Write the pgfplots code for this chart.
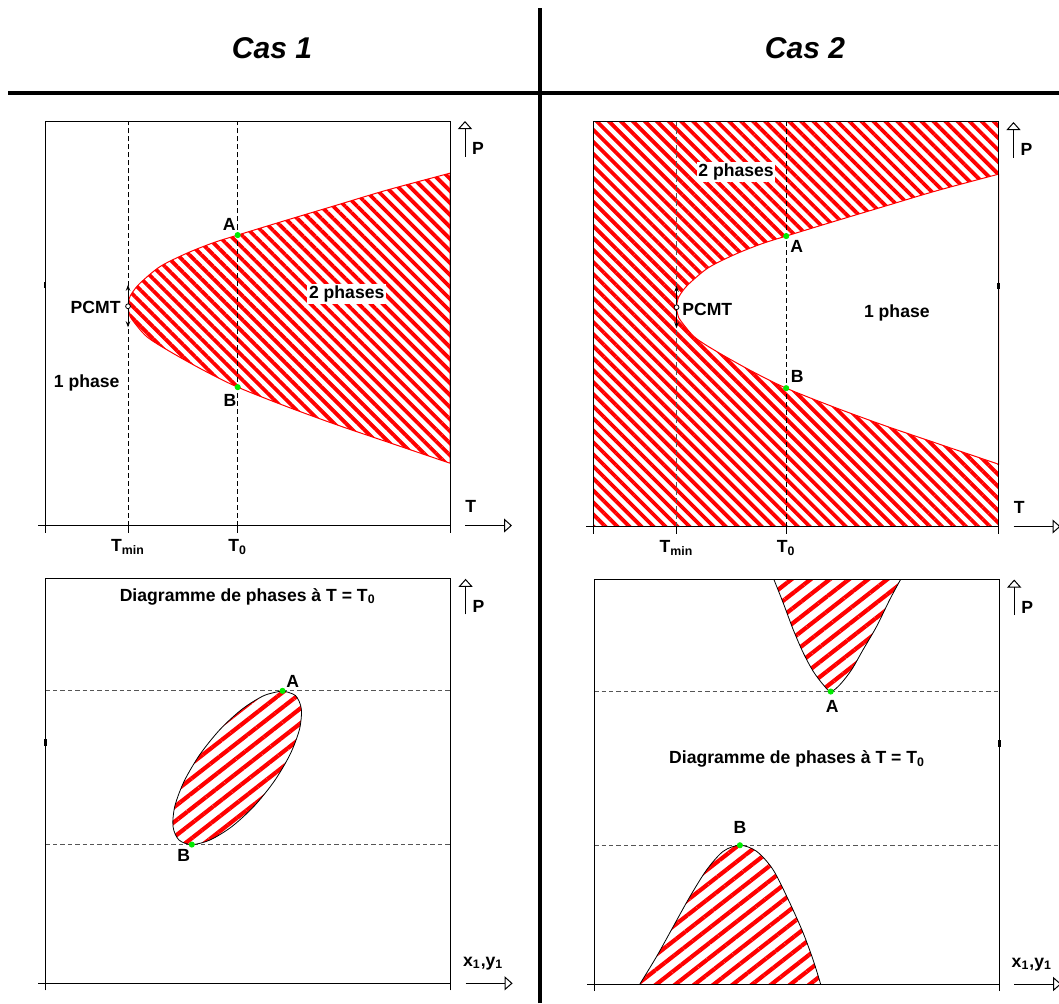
\documentclass[border=0pt]{standalone}
\usepackage{pgfplots}
\pgfplotsset{compat=1.18}
\usepackage{pgfplotstable}
\usepackage{fontspec}
\setmainfont{Liberation Sans}
\usetikzlibrary{patterns.meta,arrows.meta}

\definecolor{dotgreen}{RGB}{0,235,0}
\definecolor{dashgray}{RGB}{85,85,85}
\newcommand\lab{\fontsize{8.8}{10}\selectfont\bfseries}

% P-T envelope: upper branch (right -> vertex at Tmin) then lower branch
\pgfplotstableread{
T P
10    8.71
8.437 8.29
7.202 7.92
5.968 7.55
4.758 7.18
4.156 6.99
3.50  6.73
2.84  6.40
2.346 5.99
2.15  5.75
2.08  5.61
2.05  5.42
2.08  5.24
2.15  5.09
2.511 4.67
3.086 4.30
3.909 3.84
4.758 3.42
5.968 2.94
7.202 2.49
8.437 2.07
10    1.54
}\envelope

% isothermal loop, case 1
\pgfplotstableread{
x P
5.850 7.230
6.169 7.115
6.314 6.785
6.269 6.280
6.037 5.660
5.648 5.000
5.149 4.380
4.599 3.875
4.064 3.545
3.610 3.430
3.291 3.545
3.146 3.875
3.191 4.380
3.423 5.000
3.812 5.660
4.311 6.280
4.862 6.785
5.396 7.115
5.850 7.230
}\loopone

% case 2: upper lobe (min at A) and lower lobe (max at B)
\pgfplotstableread{
x P
4.437 10
4.667 9.42
4.914 8.76
5.160 8.19
5.407 7.73
5.654 7.40
5.840 7.23
6.067 7.40
6.356 7.77
6.642 8.27
6.973 8.84
7.301 9.51
7.565 10
}\lobeup
\pgfplotstableread{
x P
1.128 0
1.541 0.68
1.951 1.42
2.363 2.16
2.775 2.82
3.185 3.28
3.598 3.43
4.010 3.28
4.420 2.82
4.832 2.00
5.160 1.26
5.407 0.59
5.590 0
}\lobedown

\pgfplotsset{
  panel/.style={
    scale only axis, width=202.5pt, height=202.25pt,
    xmin=0, xmax=10, ymin=0, ymax=10,
    axis on top, clip=false,
    axis line style={line width=0.5pt},
    tick align=outside, major tick length=3.5pt,
    tick style={black, line width=0.5pt},
    xtick pos=left,
    ytick=\empty,
    xticklabel style={font=\lab},
  },
  hatchA/.style={pattern={Lines[angle=-45,distance=4.25pt,line width=1.9pt]}, pattern color=red},
  hatchB/.style={pattern={Lines[angle=38,distance=5.9pt,line width=2.1pt]}, pattern color=red},
  isoT/.style={black, line width=0.5pt, dash pattern=on 2.5pt off 1.5pt},
  isoP/.style={dashgray, line width=0.6pt, dash pattern=on 2.2pt off 1.5pt},
  dot/.style={only marks, mark=*, mark size=1.3pt, dotgreen, mark options={draw=dotgreen}},
}

\newcommand\sidearrows[2]{%
  \draw[line width=0.5pt,-{Triangle[open,width=7pt,length=4pt]}]
    ([xshift=7.5pt]rel axis cs:1,0.912) -- ([xshift=7.5pt]rel axis cs:1,1);
  \node[font=\lab] at ([xshift=14pt]rel axis cs:1,0.932) {P};
  \draw[line width=0.5pt,-{Triangle[open,width=7pt,length=4pt]}]
    ([xshift=7.5pt]rel axis cs:1,0) -- ([xshift=31pt]rel axis cs:1,0);
  \node[font=\lab] at ([xshift=#2]rel axis cs:1,0.048) {#1};
  \draw[line width=0.5pt] (rel axis cs:0,0) -- ([xshift=-3.7pt]rel axis cs:0,0);
}
% small thick mark on the side frame
\newcommand\sidemark[1]{%
  \draw[line width=1.3pt] (rel axis cs:#1,0.587) -- (rel axis cs:#1,0.603);
}

\begin{document}
\begin{tikzpicture}
\useasboundingbox (0,0) rectangle (529.5pt,501.5pt);

\draw[line width=1.6pt] (4pt,455pt) -- (529.5pt,455pt);
\draw[line width=1.6pt] (270pt,0) -- (270pt,497.5pt);
\node[font=\fontsize{15}{18}\selectfont\bfseries\itshape] at (136pt,477.5pt) {Cas 1};
\node[font=\fontsize{15}{18}\selectfont\bfseries\itshape] at (402.5pt,477.5pt) {Cas 2};

% ---- Cas 1, P-T
\begin{axis}[panel, at={(22.5pt,238.75pt)}, anchor=south west,
  xtick={0,2.05,4.758,10},
  xticklabels={,T\textsubscript{min},T\textsubscript{0},}]
\addplot[hatchA, draw=red, line width=0.5pt, smooth] table {\envelope} -- cycle;
\addplot[isoT] coordinates {(2.05,0) (2.05,10)};
\addplot[isoT] coordinates {(4.758,0) (4.758,10)};
\draw[line width=0.5pt,{Stealth[length=3pt]}-{Stealth[length=3pt]}] (axis cs:2.05,5.95) -- (axis cs:2.05,4.90);
\addplot[only marks, mark=*, mark size=1.2pt, mark options={fill=white,draw=black,line width=0.4pt}] coordinates {(2.05,5.42)};
\addplot[dot] coordinates {(4.758,7.18) (4.758,3.42)};
\node[font=\lab] at (axis cs:4.55,7.45) {A};
\node[font=\lab] at (axis cs:4.57,3.10) {B};
\node[font=\lab, anchor=east, inner sep=0.5pt] at (axis cs:1.90,5.39) {PCMT};
\node[font=\lab, fill=white, inner sep=0.8pt] at (axis cs:7.45,5.72) {2 phases};
\node[font=\lab] at (axis cs:1.03,3.53) {1 phase};
\sidearrows{T}{10.4pt}
\sidemark{0}
\end{axis}

% ---- Cas 2, P-T
\begin{axis}[panel, at={(296.75pt,238.25pt)}, anchor=south west,
  xtick={0,2.05,4.758,10},
  xticklabels={,T\textsubscript{min},T\textsubscript{0},}]
\addplot[hatchA, draw=none] coordinates {(0,0) (10,0) (10,10) (0,10)} -- cycle;
\addplot[fill=white, draw=red, line width=0.5pt, smooth] table {\envelope} -- cycle;
\addplot[isoT, dashgray] coordinates {(2.05,0) (2.05,10)};
\addplot[isoT] coordinates {(4.758,0) (4.758,10)};
\draw[line width=0.5pt,{Stealth[length=3pt]}-{Stealth[length=3pt]}] (axis cs:2.05,5.95) -- (axis cs:2.05,4.90);
\addplot[only marks, mark=*, mark size=1.2pt, mark options={fill=white,draw=black,line width=0.4pt}] coordinates {(2.05,5.42)};
\addplot[dot] coordinates {(4.758,7.18) (4.758,3.42)};
\node[font=\lab] at (axis cs:5.02,6.92) {A};
\node[font=\lab] at (axis cs:5.03,3.72) {B};
\node[font=\lab, anchor=west, fill=white, inner sep=0.5pt] at (axis cs:2.16,5.37) {PCMT};
\node[font=\lab, fill=white, inner sep=0.8pt] at (axis cs:3.52,8.77) {2 phases};
\node[font=\lab] at (axis cs:7.49,5.27) {1 phase};
\sidearrows{T}{10.4pt}
\sidemark{1}
\end{axis}

% ---- Cas 1, P-x at T0
\begin{axis}[panel, at={(22.8pt,9.85pt)}, anchor=south west,
  xtick={0,10}, xticklabels={}]
\addplot[isoP] coordinates {(0,7.23) (10,7.23)};
\addplot[isoP] coordinates {(0,3.43) (10,3.43)};
\addplot[hatchB, draw=black, line width=0.4pt, smooth] table {\loopone} -- cycle;
\addplot[dot] coordinates {(5.85,7.23) (3.61,3.43)};
\node[font=\lab] at (axis cs:6.10,7.46) {A};
\node[font=\lab] at (axis cs:3.41,3.15) {B};
\node[font=\lab] at (axis cs:4.99,9.56) {Diagramme de phases à T = T\textsubscript{0}};
\sidearrows{x\textsubscript{1},y\textsubscript{1}}{16.3pt}
\sidemark{0}
\end{axis}

% ---- Cas 2, P-x at T0
\begin{axis}[panel, at={(297.1pt,9.5pt)}, anchor=south west,
  xtick={0,10}, xticklabels={}]
\addplot[isoP] coordinates {(0,7.23) (10,7.23)};
\addplot[isoP] coordinates {(0,3.43) (10,3.43)};
\addplot[hatchB, draw=none, smooth] table {\lobeup} -- cycle;
\addplot[black, line width=0.4pt, smooth] table {\lobeup};
\addplot[hatchB, draw=none, smooth] table {\lobedown} -- cycle;
\addplot[black, line width=0.4pt, smooth] table {\lobedown};
\addplot[dot] coordinates {(5.84,7.23) (3.598,3.43)};
\node[font=\lab] at (axis cs:5.88,6.85) {A};
\node[font=\lab] at (axis cs:3.60,3.88) {B};
\node[font=\lab] at (axis cs:5.01,5.56) {Diagramme de phases à T = T\textsubscript{0}};
\sidearrows{x\textsubscript{1},y\textsubscript{1}}{16.3pt}
\sidemark{1}
\end{axis}
\end{tikzpicture}
\end{document}
